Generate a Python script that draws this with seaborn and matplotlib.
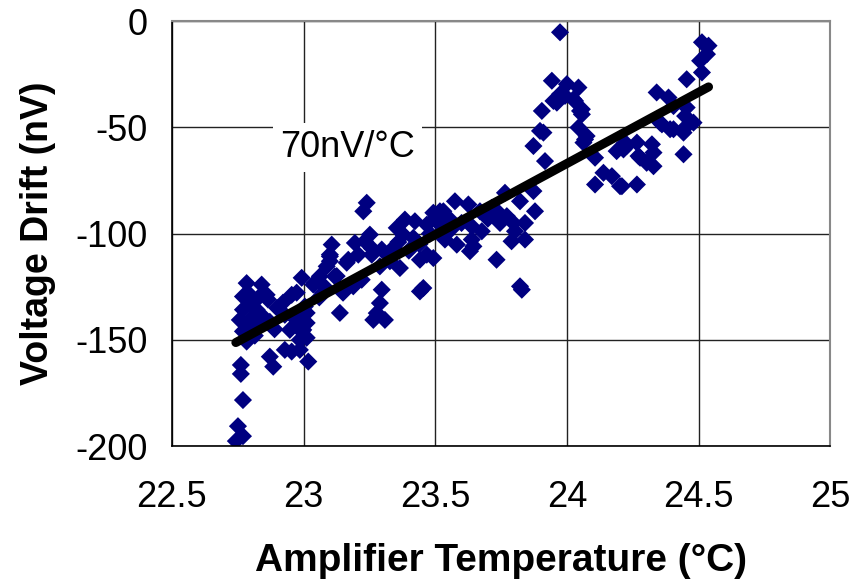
import matplotlib
matplotlib.use("Agg")
import matplotlib.pyplot as plt
import seaborn as sns
import pandas as pd

# amplifier temperature (degC)
temp = [
    22.743, 22.770, 22.751, 22.770, 22.762, 22.762,
    22.784, 22.841, 22.789, 22.860, 22.770, 22.822, 22.796, 22.846, 22.777, 22.872,
    22.784, 22.770, 22.865, 22.758, 22.810, 22.834, 22.770, 22.800, 22.830, 22.815,
    22.922, 22.993, 22.974, 23.043, 23.074, 22.960, 23.012, 22.999, 22.948, 22.986,
    22.929, 22.955, 22.872, 22.885, 23.018, 22.955, 22.929, 22.974, 22.993, 23.012,
    22.986, 23.062, 23.037, 23.005, 23.012, 22.900, 22.890,
    23.100, 23.088, 23.126, 23.138, 23.164, 23.150, 23.240, 23.227, 23.107, 23.100,
    23.100, 23.195, 23.252, 23.233, 23.170, 23.208, 23.259, 23.297, 23.341, 23.354,
    23.385, 23.423, 23.379, 23.417, 23.468, 23.493, 23.442, 23.366, 23.328, 23.290,
    23.119, 23.189, 23.221, 23.297, 23.442, 23.493, 23.290, 23.278, 23.309, 23.265,
    23.080, 23.060,
    23.575, 23.626, 23.518, 23.500, 23.550, 23.468, 23.670, 23.715, 23.765, 23.822,
    23.873, 23.741, 23.772, 23.797, 23.746, 23.879, 23.841, 23.677, 23.639, 23.531,
    23.582, 23.645, 23.733, 23.639, 23.632, 23.537, 23.455, 23.790, 23.841, 23.803,
    23.822, 23.829, 23.600, 23.560, 23.520, 23.700, 23.480, 23.440, 23.400, 23.360,
    23.320, 23.260,
    23.898, 23.873, 23.917, 23.943, 24.000, 24.044, 23.974, 24.025, 23.949, 23.905,
    24.050, 23.911, 24.044, 24.069, 23.974, 23.962, 23.993, 24.031, 24.057, 24.057,
    24.075, 24.063, 24.107, 24.139, 24.107, 24.171, 24.202, 24.266, 24.189, 24.227,
    24.266, 24.323, 24.278, 24.303, 24.329, 24.361, 24.405, 24.221, 24.272, 24.341,
    24.386, 24.405, 24.455, 24.455, 24.354, 24.392, 24.443, 24.481, 24.443, 24.513,
    24.538, 24.532, 24.506, 24.513, 24.449, 24.329, 24.215, 24.209, 24.455,
]

# voltage drift (nV)
drift = [
    -197.6, -195.3, -190.6, -178.3, -166.0, -161.8,
    -123.3, -124.0, -127.9, -128.8, -135.8, -135.8, -140.6, -139.0, -145.3, -141.5,
    -150.8, -129.6, -131.0, -140.6, -144.0, -143.0, -146.0, -132.0, -130.0, -148.0,
    -132.5, -120.8, -127.8, -123.1, -127.8, -139.0, -137.3, -145.3, -145.3, -150.0,
    -154.7, -155.5, -157.9, -162.6, -160.2, -128.8, -138.2, -140.6, -146.0, -149.0,
    -154.7, -120.1, -124.0, -134.3, -142.0, -135.0, -145.0,
    -110.7, -115.4, -120.0, -137.3, -113.7, -127.8, -85.5, -89.5, -105.2, -109.9,
    -113.0, -104.4, -100.5, -103.6, -112.3, -109.9, -109.9, -107.5, -106.7, -97.3,
    -93.4, -94.2, -100.5, -102.0, -109.9, -111.5, -112.3, -116.2, -113.0, -115.4,
    -120.1, -124.8, -121.7, -126.4, -127.2, -90.2, -132.7, -137.4, -140.6, -140.6,
    -125.0, -130.0,
    -84.8, -86.3, -89.5, -92.6, -92.6, -95.8, -89.5, -87.9, -80.8, -84.8,
    -80.0, -90.2, -91.8, -95.0, -95.0, -89.5, -95.0, -98.9, -96.6, -89.5,
    -105.2, -106.0, -112.3, -102.8, -108.3, -102.8, -125.6, -103.6, -102.8, -98.9,
    -124.8, -126.4, -95.0, -98.0, -96.0, -93.0, -100.0, -105.0, -108.0, -104.0,
    -110.0, -107.0,
    -51.7, -58.8, -65.9, -28.1, -29.7, -31.3, -34.4, -36.8, -37.6, -42.3,
    -42.3, -52.5, -50.1, -55.7, -5.3, -38.4, -35.2, -37.6, -41.5, -43.9,
    -54.1, -57.2, -64.3, -71.4, -76.9, -73.0, -77.7, -76.9, -61.2, -58.8,
    -57.2, -58.0, -64.3, -66.7, -68.3, -48.6, -50.9, -57.2, -63.5, -33.6,
    -36.0, -40.0, -40.7, -27.4, -47.8, -50.9, -52.5, -47.8, -62.7, -10.0,
    -11.6, -15.6, -18.7, -24.2, -44.7, -61.9, -60.4, -77.7, -49.4,
]

x_ticks = [22.5, 23, 23.5, 24, 24.5, 25]
y_ticks = [0, -50, -100, -150, -200]

df = pd.DataFrame({"temp": temp, "drift": drift})

sns.set_style("white")
plt.rcParams["font.family"] = ["Liberation Sans", "DejaVu Sans"]
plt.rcParams["text.color"] = "black"
plt.rcParams["axes.labelcolor"] = "black"
plt.rcParams["xtick.color"] = "black"
plt.rcParams["ytick.color"] = "black"

fig, ax = plt.subplots(figsize=(8.55, 5.84), dpi=100)
fig.subplots_adjust(left=0.201, right=0.971, top=0.964, bottom=0.236)

ax.grid(True, color="#222222", linewidth=1.0, zorder=0)
ax.set_axisbelow(True)

sns.regplot(data=df, x="temp", y="drift", ax=ax, ci=None, truncate=True,
            marker="D",
            scatter_kws={"s": 85, "color": "#000080", "edgecolors": "none",
                         "alpha": 1.0, "zorder": 2},
            line_kws={"color": "black", "linewidth": 6.5,
                      "solid_capstyle": "round", "zorder": 3})

ax.text(23.168, -59.5, "70nV/°C", fontsize=26, ha="center", va="center",
        bbox=dict(facecolor="white", edgecolor="none", pad=5), zorder=4)

ax.set_xlim(22.5, 25)
ax.set_ylim(-200, 0)
ax.set_xticks(x_ticks)
ax.set_xticklabels([f"{t:g}" for t in x_ticks])
ax.set_yticks(y_ticks)
ax.set_yticklabels([f"{t:g}" for t in y_ticks])
ax.tick_params(axis="both", direction="inout", length=15, width=1.0,
               labelsize=26, color="black")
ax.tick_params(axis="x", pad=17)
ax.tick_params(axis="y", pad=10)

ax.set_xlabel("Amplifier Temperature (°C)", fontsize=28, fontweight="bold",
              labelpad=20)
ax.set_ylabel("Voltage Drift (nV)", fontsize=27, fontweight="bold",
              labelpad=14)

for side in ["left", "bottom"]:
    ax.spines[side].set_color("black")
    ax.spines[side].set_linewidth(1.2)
for side in ["top", "right"]:
    ax.spines[side].set_color("#888888")
    ax.spines[side].set_linewidth(1.5)

fig.savefig("out.png", dpi=100)
